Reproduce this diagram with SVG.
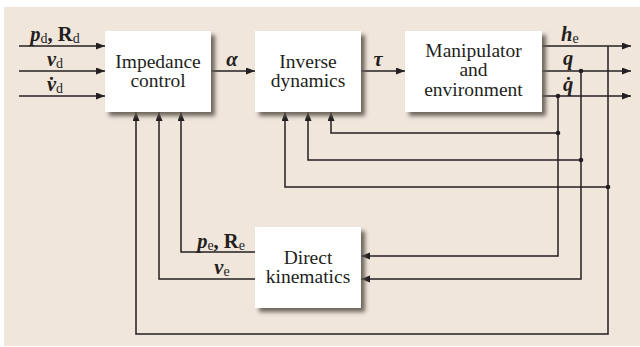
<svg xmlns="http://www.w3.org/2000/svg" width="640" height="347" viewBox="0 0 640 347">
<style>
.box{fill:#fff;filter:url(#sh)}
.lbl{font-family:"Liberation Serif","Times New Roman",serif;font-size:19.5px;fill:#231f20;text-anchor:middle}
.m{font-family:"Liberation Serif","Times New Roman",serif;font-size:20.5px;fill:#231f20;font-weight:bold}
.c{text-anchor:middle}
.bi{font-style:italic;font-weight:bold}
.sub{font-size:14px;font-weight:normal;font-style:normal}
.ln{fill:none;stroke:#231f20;stroke-width:1.5}
.ar{marker-end:url(#ah)}
.dot{fill:#231f20}
</style>
<defs>
<filter id="sh" x="-10%" y="-10%" width="130%" height="130%">
<feDropShadow dx="4" dy="4" stdDeviation="2" flood-color="#5f574d" flood-opacity="0.9"/>
</filter>
<marker id="ah" markerUnits="userSpaceOnUse" markerWidth="10" markerHeight="8" refX="9" refY="3.5" orient="auto">
<path d="M0,0 L9,3.5 L0,7 z" fill="#231f20"/>
</marker>
</defs>
<rect x="4" y="7" width="636" height="339" fill="#f1e6dc"/>

<g id="connectors">
<path class="ln ar" d="M19,46 H105"/>
<path class="ln ar" d="M19,71 H105"/>
<path class="ln ar" d="M19,96 H105"/>
<path class="ln ar" d="M211,71 H255"/>
<path class="ln ar" d="M361,71 H405"/>
<path class="ln ar" d="M542,46 H631"/>
<path class="ln ar" d="M542,71 H631"/>
<path class="ln ar" d="M542,96 H631"/>
<path class="ln ar" d="M558,96 V256 H361"/>
<path class="ln ar" d="M558,133 H331 V112"/>
<path class="ln ar" d="M581,71 V279 H361"/>
<path class="ln ar" d="M581,160 H308 V112"/>
<path class="ln ar" d="M608,46 V334 H136 V112"/>
<path class="ln ar" d="M608,187 H285 V112"/>
<path class="ln ar" d="M255,252 H181 V112"/>
<path class="ln ar" d="M255,279 H159 V112"/>
<circle class="dot" cx="558" cy="96" r="2.3"/>
<circle class="dot" cx="558" cy="133" r="2.3"/>
<circle class="dot" cx="581" cy="71" r="2.3"/>
<circle class="dot" cx="581" cy="160" r="2.3"/>
<circle class="dot" cx="608" cy="187" r="2.3"/>
</g>

<g id="impedance-control">
<rect class="box" x="105" y="31" width="106" height="81"/>
<text class="lbl" x="158" y="68">Impedance</text>
<text class="lbl" x="158" y="87">control</text>
</g>
<g id="inverse-dynamics">
<rect class="box" x="255" y="31" width="106" height="81"/>
<text class="lbl" x="308" y="68">Inverse</text>
<text class="lbl" x="308" y="87">dynamics</text>
</g>
<g id="manipulator">
<rect class="box" x="405" y="31" width="137" height="81"/>
<text class="lbl" x="473.5" y="57">Manipulator</text>
<text class="lbl" x="473.5" y="76">and</text>
<text class="lbl" x="473.5" y="96">environment</text>
</g>
<g id="direct-kinematics">
<rect class="box" x="255" y="227" width="106" height="81"/>
<text class="lbl" x="308" y="264">Direct</text>
<text class="lbl" x="308" y="283">kinematics</text>
</g>

<g id="labels">
<text class="m c" x="55" y="41"><tspan class="bi">p</tspan><tspan class="sub" dy="2">d</tspan><tspan dy="-2">, R</tspan><tspan class="sub" dy="2">d</tspan></text>
<text class="m c" x="55" y="66"><tspan class="bi">v</tspan><tspan class="sub" dy="2">d</tspan></text>
<text class="m c" x="55" y="91"><tspan class="bi">v̇</tspan><tspan class="sub" dy="2">d</tspan></text>
<text class="m bi c" x="232" y="66">α</text>
<text class="m bi c" x="378" y="66">τ</text>
<text class="m" x="561" y="41"><tspan class="bi">h</tspan><tspan class="sub" dy="2">e</tspan></text>
<text class="m bi" x="563" y="65">q</text>
<text class="m bi" x="563" y="91">q̇</text>
<text class="m c" x="221" y="248"><tspan class="bi">p</tspan><tspan class="sub" dy="2">e</tspan><tspan dy="-2">, R</tspan><tspan class="sub" dy="2">e</tspan></text>
<text class="m c" x="222" y="274"><tspan class="bi">v</tspan><tspan class="sub" dy="2">e</tspan></text>
</g>
</svg>
